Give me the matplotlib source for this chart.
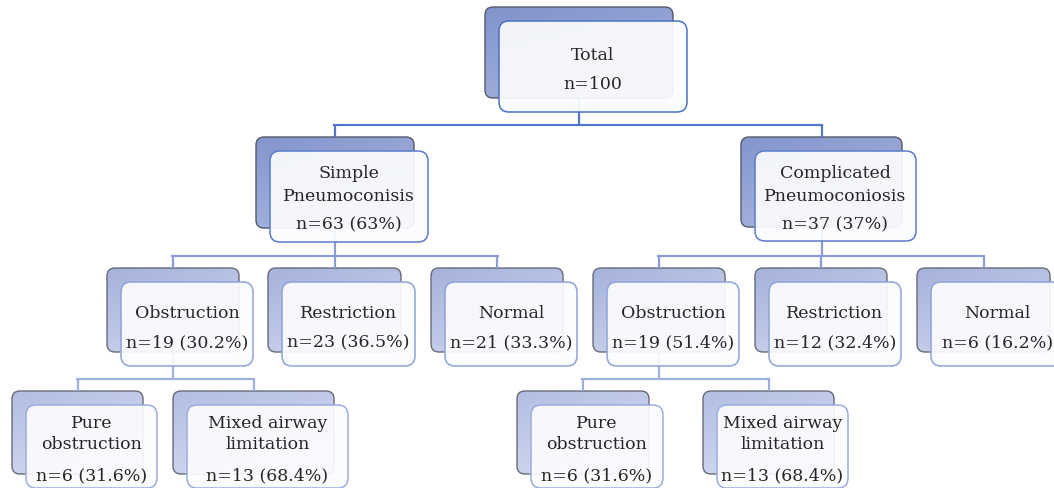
import matplotlib
matplotlib.use('Agg')
import matplotlib.pyplot as plt
import numpy as np
from matplotlib.colors import to_rgb
from matplotlib.patches import FancyBboxPatch

# Study population breakdown
total_label = "Total"
total_n = 100

group_labels = ["Simple\nPneumoconisis", "Complicated\nPneumoconiosis"]
group_n = [63, 37]
group_pct = ["63%", "37%"]

pattern_labels = ["Obstruction", "Restriction", "Normal"]
pattern_n = [[19, 23, 21], [19, 12, 6]]
pattern_pct = [["30.2%", "36.5%", "33.3%"], ["51.4%", "32.4%", "16.2%"]]

subtype_labels = ["Pure\nobstruction", "Mixed airway\nlimitation"]
subtype_n = [[6, 13], [6, 13]]
subtype_pct = [["31.6%", "68.4%"], ["31.6%", "68.4%"]]

# Layout in pixel units (x, y, w, h of the shaded back card)
W, H = 1054, 489
OFFSET = 14
BAR_GAP = 12
root_box = (485, 8, 188, 91)
group_boxes = [(256, 138, 158, 91), (741, 138, 161, 90)]
pattern_boxes = [[(107, 269, 132, 84), (268, 269, 133, 84), (431, 269, 132, 84)],
                 [(593, 269, 132, 84), (755, 269, 132, 84), (917, 269, 133, 84)]]
subtype_boxes = [[(12, 392, 131, 83), (173, 392, 161, 83)],
                 [(517, 392, 132, 83), (703, 392, 131, 83)]]

# style per level: back gradient (top-left, bottom-right), back edge, front edge, connector
styles = {
    0: dict(grad=('#8293cb', '#abb7e0'), edge='#55596a', front='#4a72c4', link='#5577c8'),
    1: dict(grad=('#8495cc', '#b0bce3'), edge='#55596a', front='#5b7ccb', link='#8a9dd8'),
    2: dict(grad=('#a6b2dc', '#d2d9ef'), edge='#676b78', front='#8fa3da', link='#9fb0e0'),
    3: dict(grad=('#b3bee2', '#d8def2'), edge='#676b78', front='#9cacdf', link='#9fb0e0'),
}

# text baselines relative to the top of the back card
name_baselines = {0: [52], 1: [40, 63], 2: [49], 3: [36, 57]}
count_baseline = {0: 81, 1: 91, 2: 78, 3: 88}

TEXT_COLOR = '#262626'
FONT = dict(family='DejaVu Serif', fontsize=12.5, color=TEXT_COLOR)

fig = plt.figure(figsize=(W / 100, H / 100), dpi=100)
ax = fig.add_axes([0, 0, 1, 1])
ax.set_xlim(0, W)
ax.set_ylim(H, 0)
ax.axis('off')


def gradient_card(box, style):
    x, y, w, h = box
    card = FancyBboxPatch((x, y), w, h, boxstyle="round,pad=0,rounding_size=8",
                          facecolor='none', edgecolor=style['edge'], lw=1.0, zorder=1.5)
    ax.add_patch(card)
    c0 = np.array(to_rgb(style['grad'][0]))
    c1 = np.array(to_rgb(style['grad'][1]))
    u = np.linspace(0, 1, 64)
    t = (u[None, :] * 0.35 + u[:, None] * 0.65)
    img = c0[None, None, :] * (1 - t[..., None]) + c1[None, None, :] * t[..., None]
    im = ax.imshow(img, extent=(x, x + w, y + h, y), origin='upper',
                   interpolation='bilinear', zorder=1, aspect='auto')
    im.set_clip_path(card)


def front_card(box, style):
    x, y, w, h = box
    card = FancyBboxPatch((x + OFFSET, y + OFFSET), w, h,
                          boxstyle="round,pad=0,rounding_size=10",
                          facecolor='#fbfcfe', alpha=0.93, edgecolor='none', zorder=3)
    ax.add_patch(card)
    edge = FancyBboxPatch((x + OFFSET, y + OFFSET), w, h,
                          boxstyle="round,pad=0,rounding_size=10",
                          facecolor='none', edgecolor=style['front'], lw=1.1, zorder=3.1)
    ax.add_patch(edge)


def node(box, level, name, n, pct=None):
    style = styles[level]
    gradient_card(box, style)
    front_card(box, style)
    x, y, w, h = box
    cx = x + OFFSET + w / 2
    for line, base in zip(name.split('\n'), name_baselines[level]):
        ax.text(cx, y + base, line, ha='center', va='baseline', zorder=4, **FONT)
    count = f"n={n}" if pct is None else f"n={n} ({pct})"
    ax.text(cx, y + count_baseline[level], count, ha='center', va='baseline',
            zorder=4, **FONT)


def connect(parent, children, level):
    px, py, pw, ph = parent
    bar_y = min(c[1] for c in children) - BAR_GAP
    color = styles[level]['link']
    pcx = px + pw / 2
    ax.plot([pcx, pcx], [py + ph, bar_y], color=color, lw=1.6, zorder=2,
            solid_capstyle='butt')
    centers = [c[0] + c[2] / 2 for c in children]
    ax.plot([min(centers) - 0.8, max(centers) + 0.8], [bar_y, bar_y], color=color,
            lw=1.6, zorder=2)
    for c, cx in zip(children, centers):
        ax.plot([cx, cx], [bar_y, c[1]], color=color, lw=1.6, zorder=2,
                solid_capstyle='butt')


# connectors
connect(root_box, group_boxes, 0)
for g in range(2):
    connect(group_boxes[g], pattern_boxes[g], 1)
    connect(pattern_boxes[g][0], subtype_boxes[g], 2)

# cards
node(root_box, 0, total_label, total_n)
for g in range(2):
    node(group_boxes[g], 1, group_labels[g], group_n[g], group_pct[g])
    for i in range(3):
        node(pattern_boxes[g][i], 2, pattern_labels[i], pattern_n[g][i], pattern_pct[g][i])
    for i in range(2):
        node(subtype_boxes[g][i], 3, subtype_labels[i], subtype_n[g][i], subtype_pct[g][i])

fig.savefig('out.png', dpi=100, facecolor='white')
